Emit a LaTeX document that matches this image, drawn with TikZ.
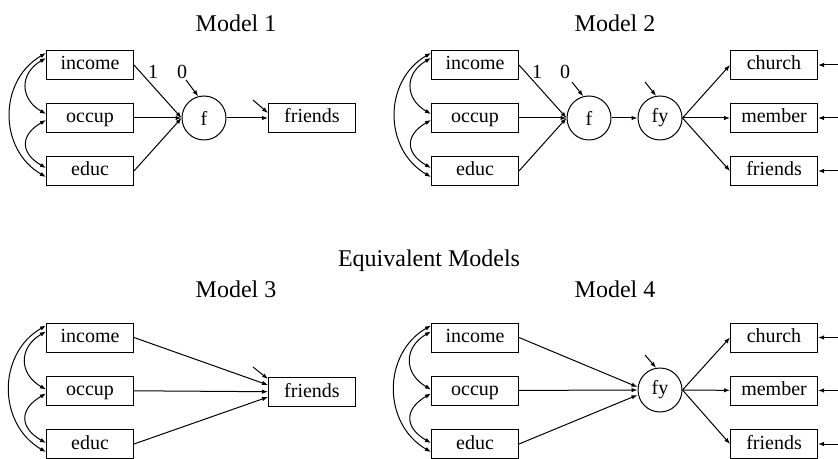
\documentclass[tikz,border=0pt]{standalone}
\usepackage{fontspec}
\setmainfont{Liberation Serif}
\usetikzlibrary{arrows.meta}

\begin{document}
\begin{tikzpicture}[
    x=0.5pt, y=0.5pt, line width=0.5pt,
    obs/.style={draw, rectangle, minimum width=43.5pt, minimum height=14.5pt, inner sep=0pt, text height=7pt, text depth=2pt, font=\fontsize{10}{12}\selectfont},
    lat/.style={draw, circle, minimum size=22pt, inner sep=0pt, font=\fontsize{10}{12}\selectfont},
    ttl/.style={font=\fontsize{12}{14}\selectfont, inner sep=0pt},
    lbl/.style={font=\fontsize{10}{12}\selectfont, inner sep=0pt},
    arr/.style={-{Latex[length=3pt,width=2.2pt]}},
    cov/.style={{Latex[length=3pt,width=2.2pt]}-{Latex[length=3pt,width=2.2pt]}}
]
\useasboundingbox (0,0) rectangle (838,-459);

\node[ttl] (t1) at (236,-23) {Model 1};
\node[ttl] (t2) at (615,-23) {Model 2};
\node[ttl] (teq) at (429,-261) {Equivalent Models};
\node[ttl] (t3) at (236,-289) {Model 3};
\node[ttl] (t4) at (615,-289) {Model 4};

% Model 1
\node[obs] (inc1) at (90,-65) {income};
\node[obs] (occ1) at (90,-118) {occup};
\node[obs] (edu1) at (90,-171) {educ};
\node[lat] (f1) at (204,-118) {f};
\node[obs] (fr1) at (312,-118) {friends};
\node[lbl] (one1) at (153,-72) {1};
\node[lbl] (zero1) at (182,-72) {0};
\coordinate (ef1) at (186,-80);
\coordinate (efr1) at (253,-100);

\draw[arr] (inc1.east) -- (f1.west);
\draw[arr] (occ1) -- (f1);
\draw[arr] (edu1.east) -- (f1.west);
\draw[arr] (f1) -- (fr1);
\draw[arr] (ef1) -- (f1.105);
\draw[arr] (efr1) -- ([yshift=2.5pt]fr1.west);
\draw[cov] ([yshift=6pt]inc1.west) to[out=210,in=150,looseness=1.14] ([yshift=-3pt]edu1.west);
\draw[cov] ([yshift=3.5pt]inc1.west) to[out=210,in=150,looseness=1.4] ([yshift=2pt]occ1.west);
\draw[cov] ([yshift=-1pt]occ1.west) to[out=210,in=150,looseness=1.6] ([yshift=1.5pt]edu1.west);

% Model 2
\node[obs] (inc2) at (475,-65) {income};
\node[obs] (occ2) at (475,-118) {occup};
\node[obs] (edu2) at (475,-171) {educ};
\node[lat] (f2) at (589,-118) {f};
\node[lat] (fy2) at (660,-118) {fy};
\node[obs] (ch2) at (774,-65) {church};
\node[obs] (me2) at (774,-118) {member};
\node[obs] (fr2) at (774,-171) {friends};
\node[lbl] (one2) at (537,-72) {1};
\node[lbl] (zero2) at (565,-72) {0};
\coordinate (ef2) at (572,-82);
\coordinate (efy2) at (645,-82);
\coordinate (ech2) at (842,-65);
\coordinate (eme2) at (842,-118);
\coordinate (efr2) at (842,-171);

\draw[arr] (inc2.east) -- (f2.west);
\draw[arr] (occ2) -- (f2);
\draw[arr] (edu2.east) -- (f2.west);
\draw[arr] (f2) -- (fy2);
\draw[arr] (fy2.east) -- (ch2.west);
\draw[arr] (fy2) -- (me2);
\draw[arr] (fy2.east) -- (fr2.west);
\draw[arr] (ef2) -- (f2.105);
\draw[arr] (efy2) -- (fy2.100);
\draw[arr] (ech2) -- (ch2.east);
\draw[arr] (eme2) -- (me2.east);
\draw[arr] (efr2) -- (fr2.east);
\draw[cov] ([yshift=6pt]inc2.west) to[out=210,in=150,looseness=1.14] ([yshift=-3pt]edu2.west);
\draw[cov] ([yshift=3.5pt]inc2.west) to[out=210,in=150,looseness=1.4] ([yshift=2pt]occ2.west);
\draw[cov] ([yshift=-1pt]occ2.west) to[out=210,in=150,looseness=1.6] ([yshift=1.5pt]edu2.west);

% Model 3
\node[obs] (inc3) at (90,-337.5) {income};
\node[obs] (occ3) at (90,-390.5) {occup};
\node[obs] (edu3) at (90,-444) {educ};
\node[obs] (fr3) at (312,-392) {friends};
\coordinate (efr3) at (253,-367);

\draw[arr] (inc3.east) -- ([yshift=3.5pt]fr3.west);
\draw[arr] (occ3) -- (fr3);
\draw[arr] (edu3.east) -- ([yshift=-2.5pt]fr3.west);
\draw[arr] (efr3) -- ([yshift=6.5pt]fr3.west);
\draw[cov] ([yshift=6pt]inc3.west) to[out=210,in=150,looseness=1.14] ([yshift=-4pt]edu3.west);
\draw[cov] ([yshift=3pt]inc3.west) to[out=210,in=150,looseness=1.4] ([yshift=0.5pt]occ3.west);
\draw[cov] ([yshift=-1.5pt]occ3.west) to[out=210,in=150,looseness=1.6] ([yshift=0.5pt]edu3.west);

% Model 4
\node[obs] (inc4) at (475,-337.5) {income};
\node[obs] (occ4) at (475,-390.5) {occup};
\node[obs] (edu4) at (475,-444) {educ};
\node[lat] (fy4) at (660,-390) {fy};
\node[obs] (ch4) at (774,-337.5) {church};
\node[obs] (me4) at (774,-390.5) {member};
\node[obs] (fr4) at (774,-444) {friends};
\coordinate (efy4) at (645,-355);
\coordinate (ech4) at (842,-337.5);
\coordinate (eme4) at (842,-390.5);
\coordinate (efr4) at (842,-444);

\draw[arr] (inc4.east) -- ([yshift=1.5pt]fy4.west);
\draw[arr] (occ4) -- (fy4);
\draw[arr] (edu4.east) -- ([yshift=-2.5pt]fy4.west);
\draw[arr] (fy4.east) -- (ch4.west);
\draw[arr] (fy4) -- (me4);
\draw[arr] (fy4.east) -- (fr4.west);
\draw[arr] (efy4) -- (fy4.100);
\draw[arr] (ech4) -- (ch4.east);
\draw[arr] (eme4) -- (me4.east);
\draw[arr] (efr4) -- (fr4.east);
\draw[cov] ([yshift=6pt]inc4.west) to[out=210,in=150,looseness=1.14] ([yshift=-4pt]edu4.west);
\draw[cov] ([yshift=3pt]inc4.west) to[out=210,in=150,looseness=1.4] ([yshift=0.5pt]occ4.west);
\draw[cov] ([yshift=-1.5pt]occ4.west) to[out=210,in=150,looseness=1.6] ([yshift=0.5pt]edu4.west);
\end{tikzpicture}
\end{document}
